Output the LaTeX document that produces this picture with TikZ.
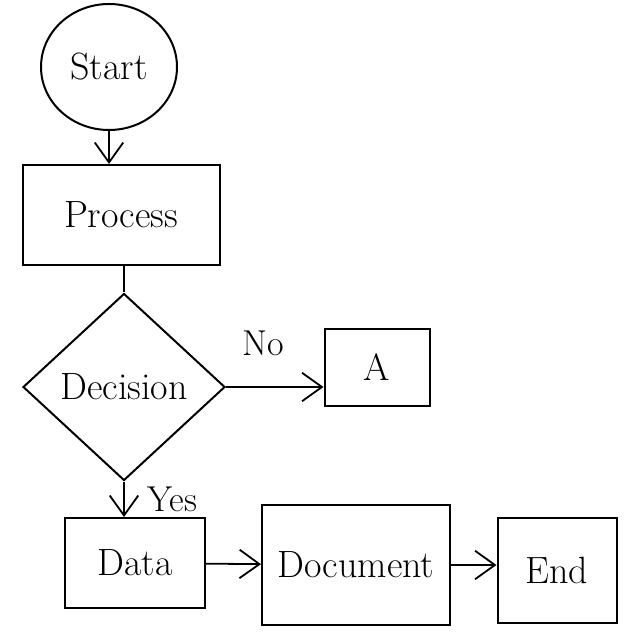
\documentclass[tikz,border=0pt]{standalone}
\usepackage{tikz}
\usetikzlibrary{shapes.geometric,arrows.meta}

\begin{document}
\begin{tikzpicture}[
  x=0.5pt, y=-0.5pt,
  every node/.style={font=\fontsize{19}{23}\selectfont},
  box/.style={draw, line width=1pt, minimum width=#1, inner sep=0pt},
  arr/.style={-{Straight Barb[length=3.5mm, width=5mm]}, line width=0.9pt},
  lab/.style={font=\fontsize{18}{21}\selectfont}]
  \useasboundingbox (0,0) rectangle (640,640);
  \node[draw, ellipse, line width=1pt, minimum width=68pt, minimum height=63pt] (start) at (109,67) {Start};
  \node[box=98.5pt, minimum height=50pt] (proc) at (121,215) {Process};
  \node[draw, diamond, line width=1pt, minimum width=101pt, minimum height=93.5pt, inner sep=0pt] (dec) at (124,387) {Decision};
  \node[box=52.5pt, minimum height=38.5pt] (a) at (377,367) {A};
  \node[box=70pt, minimum height=45pt] (data) at (135,563) {Data};
  \node[box=94pt, minimum height=60pt] (doc) at (356,565) {Document};
  \node[box=59.5pt, minimum height=52.5pt] (end) at (557,570) {End};
  \draw[arr] (start.south) -- (start.south |- proc.north);
  \draw[line width=0.9pt] (proc.south -| dec.north) -- (dec.north);
  \draw[arr] (dec.east) -- (dec.east -| a.west) node[lab, pos=0.38, above=12pt] {No};
  \draw[arr] (dec.south) -- (dec.south |- data.north) node[lab, midway, right=8pt] {Yes};
  \draw[arr] (data) -- (doc);
  \draw[arr] (doc.east) -- (doc.east -| end.west);
\end{tikzpicture}
\end{document}
